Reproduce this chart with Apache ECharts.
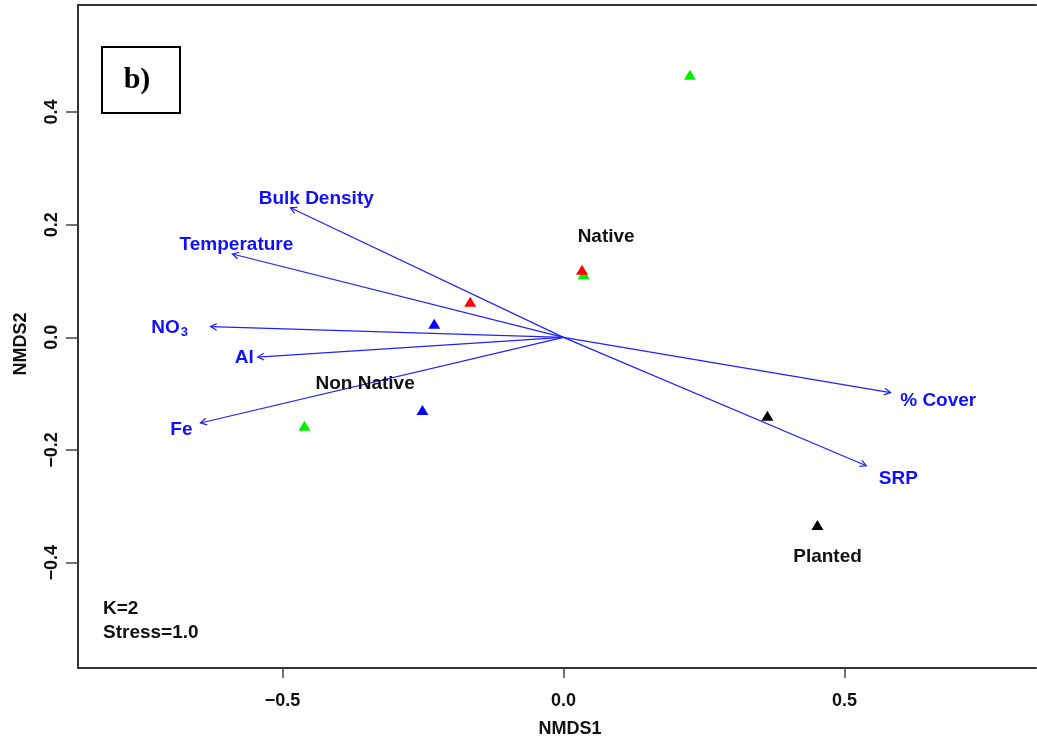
<!DOCTYPE html>
<html>
<head>
<meta charset="utf-8">
<script src="https://cdn.jsdelivr.net/npm/echarts@6/dist/echarts.min.js"></script>
<style>html,body{margin:0;padding:0;background:#fff}#c{width:1037px;height:736px}</style>
</head>
<body>
<div id="c"></div>
<script>
// ---- Data (NMDS coordinates) ----
const xTicks = [-0.5, 0.0, 0.5];
const yTicks = [-0.4, -0.2, 0.0, 0.2, 0.4];

const sitesGreen = [[0.225, 0.466], [0.036, 0.112], [-0.461, -0.157]];
const sitesRed   = [[0.033, 0.120], [-0.166, 0.063]];
const sitesBlue  = [[-0.230, 0.024], [-0.251, -0.129]];
const sitesBlack = [[0.363, -0.139], [0.452, -0.333]];

const vectorNames = ['Bulk Density', 'Temperature', 'NO3', 'Al', 'Fe', '% Cover', 'SRP'];
const vectorTips  = [[-0.486, 0.230], [-0.589, 0.148], [-0.628, 0.019], [-0.544, -0.035],
                     [-0.646, -0.152], [0.582, -0.098], [0.539, -0.228]];
const vectorLabelPos = [[-0.440, 0.246], [-0.582, 0.164], [-0.701, 0.017], [-0.568, -0.036],
                        [-0.680, -0.164], [0.667, -0.113], [0.596, -0.251]];

const groupNames = ['Native', 'Non Native', 'Planted'];
const groupLabelPos = [[0.076, 0.178], [-0.353, -0.083], [0.470, -0.390]];

const xRange = [-0.864, 0.841];
const yRange = [-0.587, 0.590];

// ---- Chart ----
const chart = echarts.init(document.getElementById('c'));
const fmt = v => (Math.abs(v) < 1e-9 ? '0.0' : v.toFixed(1).replace('-', '\u2212'));
const FF = 'Liberation Sans, Arial, sans-serif';
const tickFont = {fontFamily: FF, fontWeight: 'bold', fontSize: 18, color: '#111'};

function arrowItem(params, api) {
  const o = api.coord([0, 0]);
  const t = api.coord([api.value(0), api.value(1)]);
  const a = Math.atan2(t[1] - o[1], t[0] - o[0]);
  const L = 7, s = 0.5;
  const p1 = [t[0] - L * Math.cos(a - s), t[1] - L * Math.sin(a - s)];
  const p2 = [t[0] - L * Math.cos(a + s), t[1] - L * Math.sin(a + s)];
  const st = {stroke: '#2020ff', lineWidth: 1.2, fill: null, opacity: 1};
  return {type: 'group', children: [
    {type: 'line', shape: {x1: o[0], y1: o[1], x2: t[0], y2: t[1]}, style: st},
    {type: 'polyline', shape: {points: [p1, t, p2]}, style: st}
  ]};
}

function textSeries(names, pos, color) {
  return {
    type: 'scatter', symbolSize: 0, z: 5, silent: true,
    itemStyle: {opacity: 1, color: color},
    data: pos.map((p, i) => ({value: p, name: names[i]})),
    label: {
      show: true, position: 'inside', opacity: 1,
      formatter: p => p.name === 'NO3' ? '{a|NO}{s|3}' : p.name,
      color: color, fontFamily: FF, fontWeight: 'bold', fontSize: 19,
      rich: {
        a: {color: color, fontFamily: FF, fontWeight: 'bold', fontSize: 19},
        s: {color: color, fontFamily: FF, fontWeight: 'bold', fontSize: 13, padding: [10, 0, 0, 1]}
      }
    }
  };
}

function siteSeries(data, color) {
  return {type: 'scatter', symbol: 'triangle', symbolSize: [12, 10], z: 4,
          itemStyle: {color: color, opacity: 1}, data: data};
}

chart.setOption({
  animation: false,
  backgroundColor: '#fff',
  grid: {left: 78, top: 5, width: 958, height: 663, containLabel: false, outerBoundsMode: 'none', show: false},
  xAxis: [{
    type: 'value', min: xRange[0], max: xRange[1], position: 'bottom',
    splitLine: {show: false},
    axisLine: {show: true, onZero: false, lineStyle: {color: '#333', width: 2}},
    axisTick: {show: true, length: 10, customValues: xTicks, lineStyle: {color: '#444', width: 1.5}},
    axisLabel: {customValues: xTicks, formatter: fmt, margin: 24, ...tickFont},
    name: 'NMDS1', nameLocation: 'middle', nameGap: 52,
    nameTextStyle: {fontFamily: FF, fontWeight: 'bold', fontSize: 18, color: '#111', padding: [0, 0, 0, 26]}
  }, {
    type: 'value', min: xRange[0], max: xRange[1], position: 'top',
    splitLine: {show: false},
    axisLine: {show: true, onZero: false, lineStyle: {color: '#333', width: 2}},
    axisTick: {show: false}, axisLabel: {show: false}
  }],
  yAxis: {
    type: 'value', min: yRange[0], max: yRange[1],
    splitLine: {show: false},
    axisLine: {show: true, onZero: false, lineStyle: {color: '#333', width: 2}},
    axisTick: {show: true, length: 12, customValues: yTicks, lineStyle: {color: '#444', width: 1.5}},
    axisLabel: {customValues: yTicks, formatter: fmt, rotate: 90, margin: 17, ...tickFont},
    name: 'NMDS2', nameLocation: 'middle', nameGap: 48, nameRotate: 90,
    nameTextStyle: {fontFamily: FF, fontWeight: 'bold', fontSize: 18, color: '#111', padding: [0, 15, 0, 0]}
  },
  graphic: [
    {type: 'rect', shape: {x: 102, y: 47, width: 78, height: 66}, style: {fill: '#fff', stroke: '#000', lineWidth: 2}, z: 10},
    {type: 'text', x: 137, y: 80, style: {text: 'b)', font: 'bold 30px "Liberation Serif", "Times New Roman", serif', fill: '#000', align: 'center', verticalAlign: 'middle'}, z: 11},
    {type: 'text', x: 103, y: 609, style: {text: 'K=2', font: 'bold 19px "Liberation Sans", Arial, sans-serif', fill: '#111', verticalAlign: 'middle'}, z: 11},
    {type: 'text', x: 103, y: 633, style: {text: 'Stress=1.0', font: 'bold 19px "Liberation Sans", Arial, sans-serif', fill: '#111', verticalAlign: 'middle'}, z: 11}
  ],
  series: [
    {type: 'custom', renderItem: arrowItem, data: vectorTips, z: 3, silent: true, itemStyle: {opacity: 1}},
    siteSeries(sitesGreen, '#00ee00'),
    siteSeries(sitesBlack, '#000000'),
    siteSeries(sitesBlue, '#0000ff'),
    siteSeries(sitesRed, '#ff0000'),
    textSeries(vectorNames, vectorLabelPos, '#1010ff'),
    textSeries(groupNames, groupLabelPos, '#111111')
  ]
});
</script>
</body>
</html>
